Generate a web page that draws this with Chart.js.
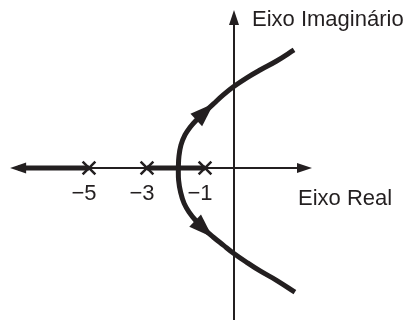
<!DOCTYPE html>
<html><head><meta charset="utf-8">
<script src="https://cdn.jsdelivr.net/npm/chart.js@4"></script>
<style>html,body{margin:0;padding:0;background:#fff}#wrap{width:406px;height:320px}</style>
</head><body><div id="wrap"><canvas id="c" width="406" height="320"></canvas></div>
<script>
// ---- data ----
const poles = [-5, -3, -1];
const poleLabels = ['\u22125', '\u22123', '\u22121'];
const upperReal = [-1.92, -1.90, -1.83, -1.69, -1.52, -1.29, -1.00, -0.71, -0.37, -0.02, 0.44, 0.90, 1.47, 2.07];
const upperImag = [0, 0.39, 0.79, 1.14, 1.40, 1.66, 1.94, 2.21, 2.52, 2.80, 3.11, 3.38, 3.69, 4.07];
const lowerReal = [-1.92, -1.91, -1.84, -1.72, -1.55, -1.32, -1.04, -0.72, -0.37, -0.04, 0.42, 0.90, 1.48, 2.10];
const lowerImag = [0, -0.42, -0.84, -1.22, -1.52, -1.81, -2.10, -2.38, -2.66, -2.92, -3.24, -3.55, -3.88, -4.28];
const realLocusSegments = [[-7.45, -5], [-3, -1]];
const realAxisRange = [-7.72, 2.69];
const imagAxisRange = [-5.3, 5.45];
const axisTitles = ['Eixo Real', 'Eixo Imagin\u00e1rio'];

const INK = '#231f20';
const toPts = (xs, ys) => xs.map((x, i) => ({x, y: ys[i]}));

const datasets = [
  {label: 'poles', data: poles.map(p => ({x: p, y: 0})), showLine: false,
   pointStyle: 'crossRot', pointRadius: 9, borderColor: INK, borderWidth: 2.5, order: 0},
  {label: 'upper', data: toPts(upperReal, upperImag), showLine: true, tension: 0.4,
   borderColor: INK, borderWidth: 5, pointRadius: 0, order: 1},
  {label: 'lower', data: toPts(lowerReal, lowerImag), showLine: true, tension: 0.4,
   borderColor: INK, borderWidth: 5, pointRadius: 0, order: 1},
  ...realLocusSegments.map(s => ({label: 'realLocus', data: [{x: s[0], y: 0}, {x: s[1], y: 0}],
   showLine: true, borderColor: INK, borderWidth: 5, pointRadius: 0, order: 2})),
  {label: 'realAxis', data: [{x: realAxisRange[0] + 0.3, y: 0}, {x: realAxisRange[1] - 0.3, y: 0}],
   showLine: true, borderColor: INK, borderWidth: 2, pointRadius: 0, order: 3},
  {label: 'imagAxis', data: [{x: 0, y: imagAxisRange[0]}, {x: 0, y: imagAxisRange[1] - 0.3}],
   showLine: true, borderColor: INK, borderWidth: 2, pointRadius: 0, order: 3}
];

function tri(ctx, tx, ty, dx, dy, len, hw) {
  const nx = -dy, ny = dx;
  const bx = tx - dx * len, by = ty - dy * len;
  ctx.beginPath();
  ctx.moveTo(tx, ty);
  ctx.lineTo(bx + nx * hw, by + ny * hw);
  ctx.lineTo(bx - nx * hw, by - ny * hw);
  ctx.closePath();
  ctx.fill();
}

const decor = {
  id: 'decor',
  afterDatasetsDraw(chart) {
    const {ctx, scales: {x, y}} = chart;
    ctx.save();
    ctx.fillStyle = INK;
    const y0 = y.getPixelForValue(0), x0 = x.getPixelForValue(0);
    // axis arrowheads
    tri(ctx, x.getPixelForValue(realAxisRange[0]), y0, -1, 0, 16, 5.5);
    tri(ctx, x.getPixelForValue(realAxisRange[1]), y0, 1, 0, 15, 5);
    tri(ctx, x0, y.getPixelForValue(imagAxisRange[1]), 0, -1, 15, 5);
    // branch arrows
    [[upperReal, upperImag, 6], [lowerReal, lowerImag, 6]].forEach(([rx, iy, k]) => {
      const px = i => x.getPixelForValue(rx[i]), py = i => y.getPixelForValue(iy[i]);
      let dx = px(k + 1) - px(k - 1), dy = py(k + 1) - py(k - 1);
      const L = Math.hypot(dx, dy); dx /= L; dy /= L;
      tri(ctx, px(k) + dx * 12, py(k) + dy * 12, dx, dy, 24, 8.5);
    });
    // texts
    ctx.font = '22px "Liberation Sans", Arial, sans-serif';
    ctx.textBaseline = 'alphabetic';
    ctx.textAlign = 'center';
    poles.forEach((p, i) => ctx.fillText(poleLabels[i], x.getPixelForValue(p) - 5, y0 + 32));
    ctx.textAlign = 'left';
    ctx.fillText(axisTitles[0], x.getPixelForValue(realAxisRange[1]) - 14, y0 + 37);
    ctx.fillText(axisTitles[1], x0 + 18, y.getPixelForValue(imagAxisRange[1]) + 16);
    ctx.restore();
  }
};

new Chart(document.getElementById('c'), {
  type: 'scatter',
  data: {datasets},
  options: {
    responsive: false, animation: false,
    layout: {padding: 0, autoPadding: false},
    scales: {
      x: {type: 'linear', min: -234 / 29, max: (406 - 234) / 29, display: false},
      y: {type: 'linear', min: -(320 - 168) / 29, max: 168 / 29, display: false}
    },
    plugins: {legend: {display: false}, tooltip: {enabled: false}}
  },
  plugins: [decor]
});
</script></body></html>
